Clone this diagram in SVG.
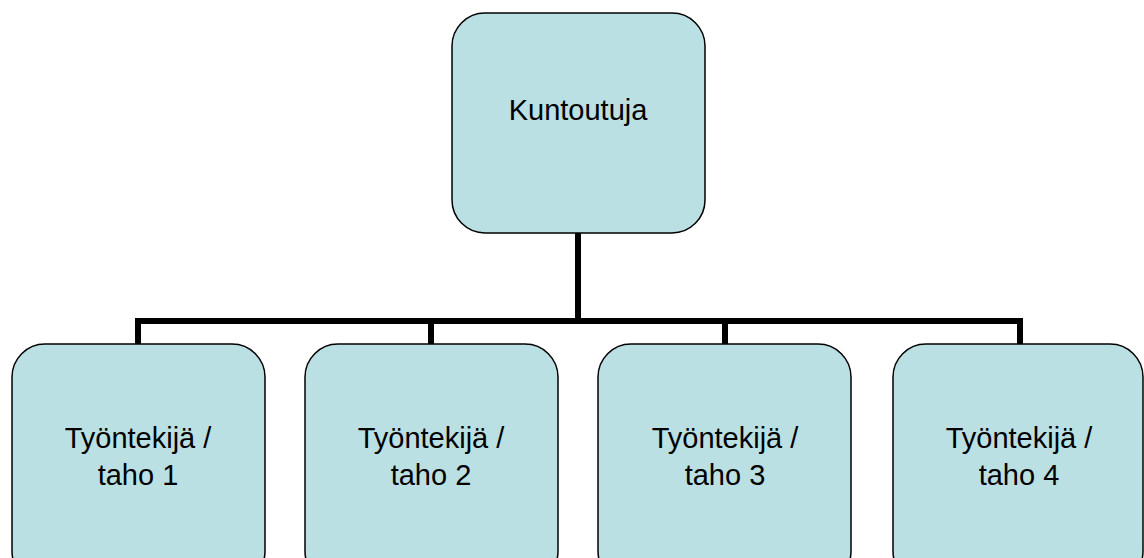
<svg xmlns="http://www.w3.org/2000/svg" width="1144" height="558" viewBox="0 0 1144 558">
<style>
.box{fill:#BBE0E3;stroke:#000;stroke-width:1.5}
.lbl{font-family:"Liberation Sans",Arial,sans-serif;font-size:29px;fill:#000;text-anchor:middle}
.con{fill:none;stroke:#000;stroke-width:6;stroke-linejoin:miter}
</style>
<rect width="1144" height="558" fill="#fff"/>
<g id="connectors">
<path class="con" d="M578 233 V321"/>
<path class="con" d="M138 344 V321 H1020 V344"/>
<path class="con" d="M431 321 V344"/>
<path class="con" d="M725 321 V344"/>
</g>
<g id="kuntoutuja">
<rect class="box" x="452" y="13" width="253" height="220" rx="33"/>
<text class="lbl" x="578" y="120">Kuntoutuja</text>
</g>
<g id="taho1">
<rect class="box" x="12" y="344" width="253" height="240" rx="33"/>
<text class="lbl" x="138" y="448">Työntekijä /</text>
<text class="lbl" x="138" y="485">taho 1</text>
</g>
<g id="taho2">
<rect class="box" x="305" y="344" width="253" height="240" rx="33"/>
<text class="lbl" x="431" y="448">Työntekijä /</text>
<text class="lbl" x="431" y="485">taho 2</text>
</g>
<g id="taho3">
<rect class="box" x="598" y="344" width="253" height="240" rx="33"/>
<text class="lbl" x="725" y="448">Työntekijä /</text>
<text class="lbl" x="725" y="485">taho 3</text>
</g>
<g id="taho4">
<rect class="box" x="893" y="344" width="250" height="240" rx="33"/>
<text class="lbl" x="1019" y="448">Työntekijä /</text>
<text class="lbl" x="1019" y="485">taho 4</text>
</g>
</svg>
